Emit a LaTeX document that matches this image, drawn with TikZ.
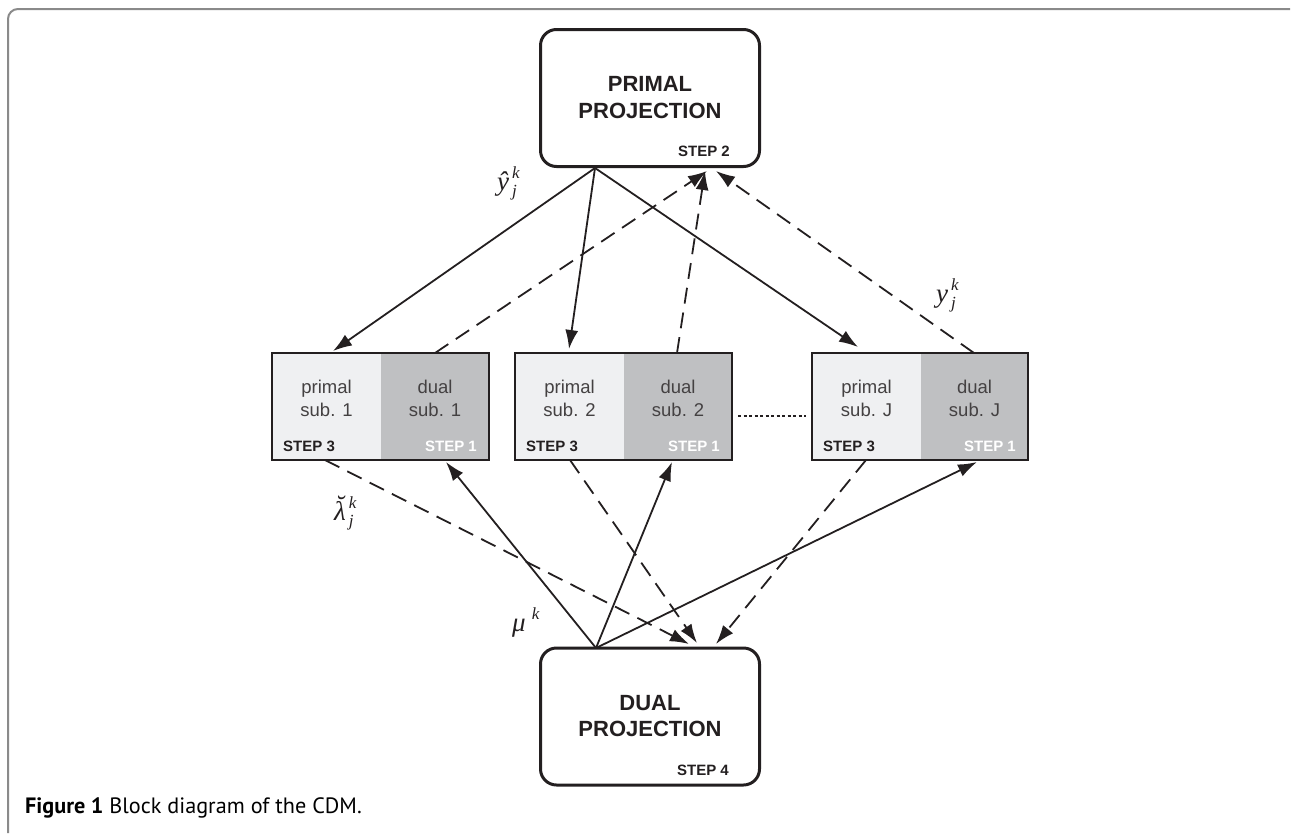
\documentclass[tikz,border=0pt]{standalone}
\usepackage{fontspec}
\newfontfamily\hv{Liberation Sans}
\newfontfamily\capfont{PT Sans}
\newfontfamily\lblfont{Liberation Serif}
\newcommand\lblss[3]{{\lblfont\itshape\fontsize{27}{30}\selectfont #1\hspace{3pt}\rlap{\raisebox{12pt}{\fontsize{17}{17}\selectfont #2}}\raisebox{-6pt}{\fontsize{17}{17}\selectfont #3}}}
\usetikzlibrary{arrows.meta}
\definecolor{ink}{HTML}{231F20}
\definecolor{lightfill}{HTML}{EFF0F2}
\definecolor{darkfill}{HTML}{BFC0C2}
\definecolor{framegray}{HTML}{8A8A8A}
\begin{document}
\begin{tikzpicture}[x=1pt,y=-1pt,
  projbox/.style={draw=ink,line width=3pt,rounded corners=16pt,minimum width=219pt,minimum height=137pt,inner sep=0pt},
  titletext/.style={font=\hv\bfseries\fontsize{22}{26.5}\selectfont,text=ink,align=center,inner sep=0pt},
  steptext/.style={font=\hv\bfseries\fontsize{15}{17}\selectfont,text=ink,inner sep=0pt},
  halfbox/.style={minimum height=107pt,inner sep=0pt,line width=0pt},
  subtext/.style={font=\hv\fontsize{18.5}{23}\selectfont,text=ink!85,align=center,inner sep=0pt},
  subframe/.style={draw=ink,line width=2pt},
  sol/.style={draw=ink,line width=1.8pt,-{Latex[length=19pt,width=13pt]}},
  dsh/.style={sol,dash pattern=on 16pt off 9pt},
  mlabel/.style={text=ink,inner sep=0pt,anchor=base west}]
\useasboundingbox (0,0) rectangle (1292,833);
% frame
\draw[framegray,line width=2pt,rounded corners=10pt] (8,833) -- (8,9) -- (1290,9);
% projection boxes
\node[projbox] (top) at (650,98) {};
\node[titletext] (toptitle) at (650,97.5) {PRIMAL\\PROJECTION};
\node[steptext,anchor=east] (step2) at (730,151.5) {STEP 2};
\node[projbox] (bot) at (650,716.5) {};
\node[titletext] (bottitle) at (650,716) {DUAL\\PROJECTION};
\node[steptext,anchor=east] (step4) at (729,770) {STEP 4};
% subproblem boxes
\foreach \n/\xa/\xm/\xb/\lab in {1/272/381/489/1, 2/515/624/732/2, 3/812/921/1028/J}{
  \node[halfbox,fill=lightfill,minimum width={\xm-\xa},anchor=north west] (p\n) at (\xa,353) {};
  \node[halfbox,fill=darkfill,minimum width={\xb-\xm},anchor=north west] (d\n) at (\xm,353) {};
  \draw[subframe] (p\n.north west) rectangle (d\n.south east);
  \node[subtext] (pt\n) at ({(\xa+\xm)/2},398) {primal\\sub. \lab};
  \node[subtext] (dt\n) at ({(\xm+\xb)/2},398) {dual\\sub. \lab};
  \node[steptext,anchor=west] (s3\n) at (\xa+11,446) {STEP 3};
  \node[steptext,anchor=east,text=white] (s1\n) at (\xb-12,446) {STEP 1};
}
% dotted link
\coordinate (dl1) at (738,416);
\coordinate (dl2) at (806,416);
\draw[ink,line width=1.5pt,dash pattern=on 3pt off 2.5pt] (dl1) -- (dl2);
% coordinates
\coordinate (topout) at (595,168);
\coordinate (botout) at (596,648);
\coordinate (t1) at (333,351);
\coordinate (t2) at (569,349);
\coordinate (t3) at (858,347);
\coordinate (du1) at (435,353);
\coordinate (du2) at (677,353);
\coordinate (du3) at (974,353);
\coordinate (ti1) at (707,171);
\coordinate (ti2) at (705,171);
\coordinate (ti3) at (716,171);
\coordinate (b1) at (446,462);
\coordinate (b2) at (672,462);
\coordinate (b3) at (977,462);
\coordinate (pb1) at (325,460);
\coordinate (pb2) at (570,460);
\coordinate (pb3) at (866,460);
\coordinate (bi1) at (689,644);
\coordinate (bi2) at (697,643);
\coordinate (bi3) at (716,644);
% arrows
\foreach \i in {1,2,3}{
  \draw[sol] (topout) -- (t\i);
  \draw[dsh] (du\i) -- (ti\i);
  \draw[sol] (botout) -- (b\i);
  \draw[dsh] (pb\i) -- (bi\i);
}
% labels
\node[mlabel] (yhat) at (497,190) {\lblss{ŷ}{k}{j}};
\node[mlabel] (ylab) at (936,302) {\lblss{y}{k}{j}};
\node[mlabel] (lam) at (334,520) {\lblss{\rlap{\raisebox{6pt}{\hspace{1pt}˘}}λ}{k}{j}};
\node[mlabel] (mu) at (512,631) {\lblss{μ\hspace{3pt}}{k}{}};
% caption
\node[anchor=west,inner sep=0pt,font=\capfont\fontsize{22.2}{25}\selectfont] (cap) at (25,808) {\textbf{Figure 1} Block diagram of the CDM.};
\end{tikzpicture}
\end{document}
